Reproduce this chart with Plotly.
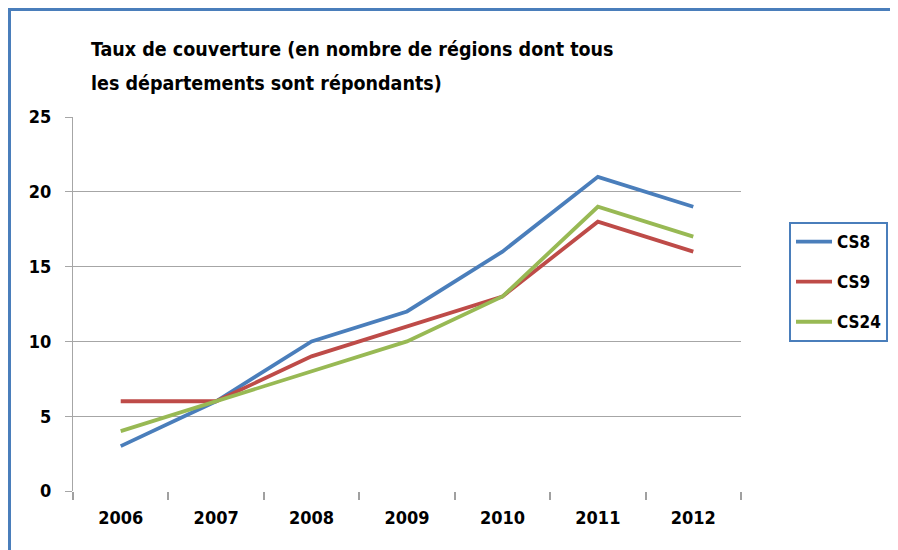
import plotly.graph_objects as go

years = ["2006", "2007", "2008", "2009", "2010", "2011", "2012"]
cs8 = [3, 6, 10, 12, 16, 21, 19]
cs9 = [6, 6, 9, 11, 13, 18, 16]
cs24 = [4, 6, 8, 10, 13, 19, 17]
series_names = ["CS8", "CS9", "CS24"]
colors = ["#4A7EBB", "#BE4B48", "#98B954"]
title_lines = ["Taux de couverture (en nombre de régions dont tous",
               "les départements sont répondants)"]

FONT = "DejaVu Sans Condensed"

fig = go.Figure()
for name, vals, col in zip(series_names, [cs8, cs9, cs24], colors):
    fig.add_trace(go.Scatter(x=years, y=vals, mode="lines", name=name,
                             legendgroup=name,
                             line=dict(color=col, width=3.8)))

OFF = 8  # page body margin
W, H = 890, 542
ml = 73 - OFF
mt = 117 - OFF
plot_r = 741 - OFF
plot_b = 491 - OFF
mr = W - plot_r
mb = H - plot_b
pw, ph = W - ml - mr, H - mt - mb

def px_x(px):  # page pixel -> paper x
    return (px - OFF - ml) / pw

def px_y(py):  # page pixel -> paper y
    return (plot_b - (py - OFF)) / ph

fig.update_layout(
    width=W, height=H,
    margin=dict(l=ml, r=mr, t=mt, b=mb, pad=0, autoexpand=False),
    paper_bgcolor="white", plot_bgcolor="white",
    font=dict(family=FONT, size=18, color="black", weight="bold"),
    showlegend=True,
    legend=dict(x=px_x(789), y=px_y(222), xanchor="left", yanchor="top",
                bordercolor="#4A7EBB", borderwidth=2,
                font=dict(family=FONT, size=17, color="black", weight="bold"),
                tracegroupgap=15, bgcolor="white", itemwidth=36),
    xaxis=dict(type="category", showgrid=False, showline=False,
               ticks="outside", tickson="boundaries", ticklen=8, tickwidth=2,
               tickcolor="#A0A0A0", range=[-0.5, 6.5],
               ticklabelstandoff=14,
               tickfont=dict(family=FONT, size=18, weight="bold"),
               zeroline=False),
    yaxis=dict(range=[0, 25], dtick=5, showgrid=True, gridcolor="#A6A6A6",
               gridwidth=1, showline=True, linecolor="#A6A6A6", linewidth=1,
               ticks="outside", ticklen=7, tickcolor="#A6A6A6",
               zeroline=False, ticklabelstandoff=10,
               tickfont=dict(family=FONT, size=18, weight="bold")),
)

for i, line in enumerate(title_lines):
    fig.add_annotation(text=line, xref="paper", yref="paper",
                       x=px_x(89), y=px_y(50 + 33 * i), xanchor="left",
                       yanchor="middle", showarrow=False,
                       font=dict(family=FONT, size=19.5, color="black", weight="bold"))

# chart-area border (blue)
fig.add_shape(type="rect", xref="paper", yref="paper",
              x0=px_x(9.5), x1=px_x(905), y0=px_y(565), y1=px_y(9.5),
              line=dict(color="#4A7EBB", width=3), layer="below")

fig.write_html("out.html")
